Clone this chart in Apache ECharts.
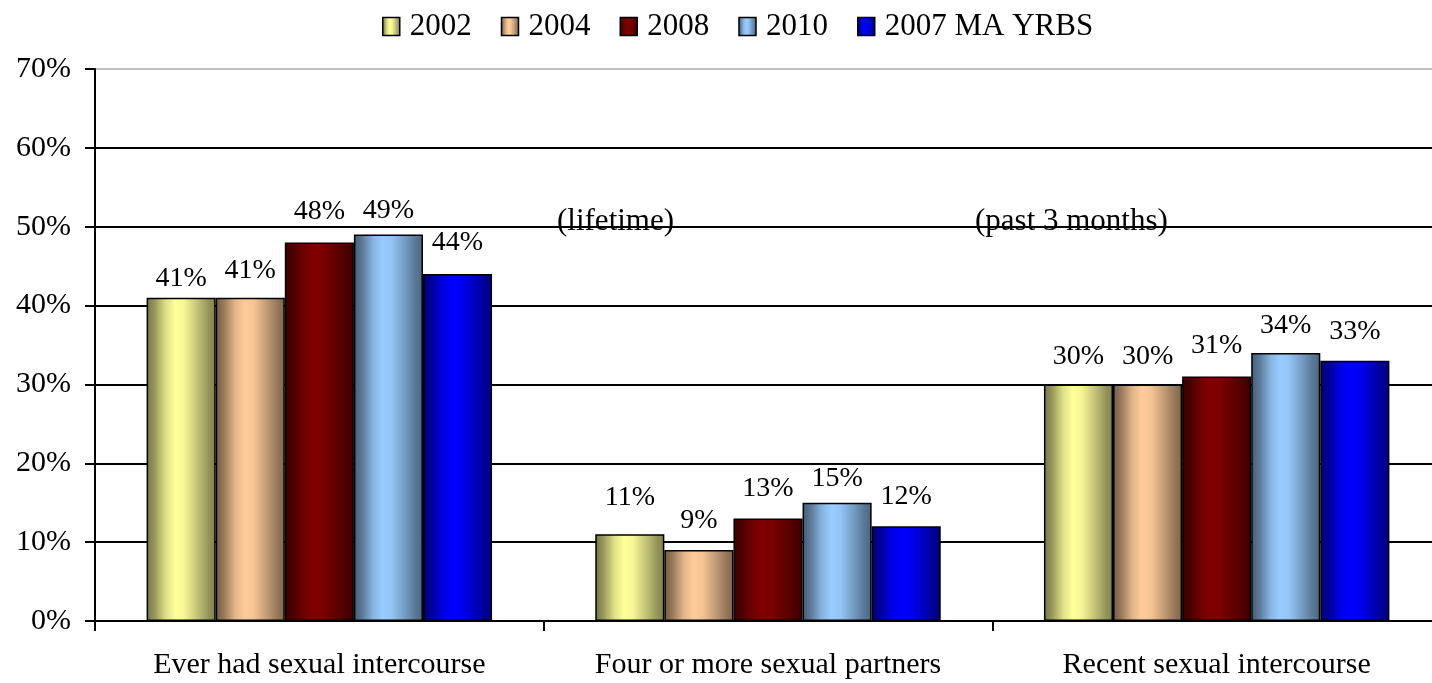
<!DOCTYPE html>
<html>
<head>
<meta charset="utf-8">
<script src="https://cdn.jsdelivr.net/npm/echarts@6/dist/echarts.min.js"></script>
<style>
  html, body { margin: 0; padding: 0; background: #fff; }
  #chart { width: 1432px; height: 683px; }
</style>
</head>
<body>
<div id="chart"></div>
<script>
// categories and series
const categories = ['Ever had sexual intercourse', 'Four or more sexual partners', 'Recent sexual intercourse'];
const seriesNames = ['2002', '2004', '2008', '2010', '2007 MA YRBS'];
const values2002 = [41, 11, 30];
const values2004 = [41, 9, 30];
const values2008 = [48, 13, 31];
const values2010 = [49, 15, 34];
const valuesMA = [44, 12, 33];
const yTicks = [0, 10, 20, 30, 40, 50, 60, 70];

// small manual nudges of the value labels (px, down is positive), as placed in the original
const labelNudge = [
  [9, -9, 0],
  [1, -1, 0],
  [-3, -2, -3],
  [4, 4, 1],
  [-3, -2, -1]
];

const baseColors = ['#FFFF99', '#FFCC99', '#800000', '#99CCFF', '#0000FF'];
const allValues = [values2002, values2004, values2008, values2010, valuesMA];

// darken a hex colour by factor f
function shade(hex, f) {
  const n = parseInt(hex.slice(1), 16);
  const r = Math.round(((n >> 16) & 255) * f);
  const g = Math.round(((n >> 8) & 255) * f);
  const b = Math.round((n & 255) * f);
  return 'rgb(' + r + ',' + g + ',' + b + ')';
}

// horizontal "cylinder" shading like the old Excel bars
function barFill(hex) {
  return new echarts.graphic.LinearGradient(0, 0, 1, 0, [
    { offset: 0, color: shade(hex, 0.45) },
    { offset: 0.12, color: shade(hex, 0.6) },
    { offset: 0.28, color: shade(hex, 0.88) },
    { offset: 0.42, color: shade(hex, 1) },
    { offset: 0.55, color: shade(hex, 0.96) },
    { offset: 0.75, color: shade(hex, 0.75) },
    { offset: 0.9, color: shade(hex, 0.58) },
    { offset: 1, color: shade(hex, 0.5) }
  ]);
}

const font = 'Liberation Serif';

const chart = echarts.init(document.getElementById('chart'));

const series = seriesNames.map((name, i) => ({
  name: name,
  type: 'bar',
  data: allValues[i].map((v, j) => ({
    value: v,
    label: { offset: [0, labelNudge[i][j]] }
  })),
  barGap: '0%',
  barCategoryGap: '23%',
  itemStyle: {
    color: barFill(baseColors[i]),
    borderColor: '#000',
    borderWidth: 1.5
  },
  label: {
    show: true,
    position: 'top',
    distance: 14,
    formatter: '{c}%',
    fontFamily: font,
    fontSize: 28,
    color: '#000'
  }
}));

const option = {
  animation: false,
  backgroundColor: '#fff',
  textStyle: { fontFamily: font },
  legend: {
    data: seriesNames,
    left: 377,
    top: 6,
    itemWidth: 17,
    itemHeight: 18,
    itemGap: 29,
    icon: 'rect',
    itemStyle: { borderColor: '#000', borderWidth: 1.5 },
    textStyle: { fontFamily: font, fontSize: 31, color: '#000', padding: [0, 0, 0, 5] }
  },
  // the plot runs a little past the right edge of the window, as in the original
  grid: { left: 95, top: 69, bottom: 62, width: 1346, containLabel: false, outerBoundsMode: 'none' },
  xAxis: {
    type: 'category',
    data: categories,
    axisLine: { lineStyle: { color: '#000', width: 2 } },
    axisTick: { show: true, length: 10, lineStyle: { color: '#000', width: 2 } },
    axisLabel: { fontFamily: font, fontSize: 30, color: '#000', margin: 29, interval: 0 }
  },
  yAxis: {
    type: 'value',
    min: yTicks[0],
    max: yTicks[yTicks.length - 1],
    interval: 10,
    axisLine: { show: true, lineStyle: { color: '#000', width: 2 } },
    axisTick: { show: true, length: 10, lineStyle: { color: '#000', width: 2 } },
    axisLabel: { fontFamily: font, fontSize: 30, color: '#000', margin: 24, formatter: '{value}%' },
    splitLine: {
      show: true,
      lineStyle: {
        color: yTicks.map((t, i) => (i === yTicks.length - 1 ? '#c0c0c0' : '#000')),
        width: 2
      }
    }
  },
  graphic: [
    { type: 'text', x: 557, y: 222, z: 100, style: { text: '(lifetime)', font: '31px "Liberation Serif"', fill: '#000', verticalAlign: 'middle' } },
    { type: 'text', x: 975, y: 222, z: 100, style: { text: '(past 3 months)', font: '31px "Liberation Serif"', fill: '#000', verticalAlign: 'middle' } }
  ],
  series: series
};

chart.setOption(option);
</script>
</body>
</html>
